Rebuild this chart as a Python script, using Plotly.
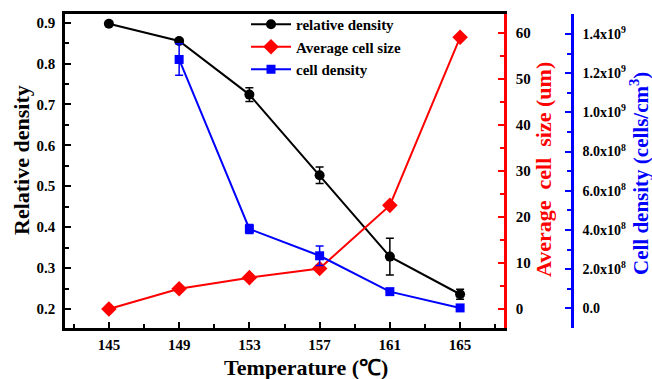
import plotly.graph_objects as go

W, H = 652, 379
temps = [145, 149, 153, 157, 161, 165]
rel_density = [0.897, 0.855, 0.724, 0.527, 0.328, 0.236]
rel_density_err = [0.0, 0.005, 0.017, 0.02, 0.045, 0.012]
cell_size = [0.0, 4.4, 6.8, 8.8, 22.5, 59.0]
cell_temps = [149, 153, 157, 161, 165]
cell_density = [1.27e9, 4.05e8, 2.68e8, 8.5e7, 2.0e6]
cell_density_err = [8.0e7, 2.3e7, 5.0e7, 0.0, 0.0]

blue_ticks = [0, 2e8, 4e8, 6e8, 8e8, 1.0e9, 1.2e9, 1.4e9]
blue_text = ["0.0", "2.0x10<sup>8</sup>", "4.0x10<sup>8</sup>", "6.0x10<sup>8</sup>",
             "8.0x10<sup>8</sup>", "1.0x10<sup>9</sup>", "1.2x10<sup>9</sup>", "1.4x10<sup>9</sup>"]

FONT = "Liberation Serif"
px = lambda x: x / W
py = lambda y: 1 - y / H

L, R, T, B = 65, 504, 14, 328
tickfont = dict(family=FONT, size=15, color="black", weight="bold")

fig = go.Figure()
fig.add_trace(go.Scatter(
    x=temps, y=rel_density, name="relative density", mode="lines+markers",
    line=dict(color="black", width=2), marker=dict(symbol="circle", size=10, color="black"),
    error_y=dict(type="data", array=rel_density_err, color="black", thickness=1.5, width=4),
    yaxis="y"))
fig.add_trace(go.Scatter(
    x=temps, y=cell_size, name="Average cell size", mode="lines+markers",
    line=dict(color="red", width=2), marker=dict(symbol="diamond", size=12, color="red"),
    yaxis="y2"))
fig.add_trace(go.Scatter(
    x=cell_temps, y=cell_density, name="cell density", mode="lines+markers",
    line=dict(color="blue", width=2), marker=dict(symbol="square", size=9, color="blue"),
    error_y=dict(type="data", array=cell_density_err, color="blue", thickness=1.5, width=4),
    yaxis="y3"))

fig.update_layout(
    width=W, height=H, margin=dict(l=0, r=0, t=0, b=0),
    paper_bgcolor="white", plot_bgcolor="white",
    showlegend=True,
    legend=dict(x=px(246), y=py(8), xanchor="left", yanchor="top",
                font=dict(family=FONT, size=15, color="black", weight="bold"),
                bgcolor="rgba(0,0,0,0)", tracegroupgap=0, itemwidth=40),
    xaxis=dict(domain=[px(L), px(R)], range=[142.5, 167.5],
               tickvals=temps, ticks="inside", ticklen=6, tickwidth=2, tickcolor="black",
               minor=dict(tickvals=[143, 147, 151, 155, 159, 163, 167], ticks="inside", ticklen=4, tickwidth=2, tickcolor="black"),
               showline=True, linecolor="black", linewidth=2.5, mirror=True,
               showgrid=False, zeroline=False, tickfont=tickfont, ticklabelstandoff=1),
    yaxis=dict(domain=[py(B), py(T)], range=[0.1535, 0.921],
               tickvals=[0.2, 0.3, 0.4, 0.5, 0.6, 0.7, 0.8, 0.9],
               ticktext=["0.2", "0.3", "0.4", "0.5", "0.6", "0.7", "0.8", "0.9"],
               ticks="inside", ticklen=6, tickwidth=2, tickcolor="black",
               minor=dict(tickvals=[0.25, 0.35, 0.45, 0.55, 0.65, 0.75, 0.85], ticks="inside", ticklen=4, tickwidth=2, tickcolor="black"),
               showline=True, linecolor="black", linewidth=2.5,
               showgrid=False, zeroline=False, tickfont=tickfont, ticklabelstandoff=4),
    yaxis2=dict(overlaying="y", side="right", anchor="x", range=[-4.13, 64.06],
                tickvals=[0, 10, 20, 30, 40, 50, 60],
                ticks="inside", ticklen=6, tickwidth=2, tickcolor="red",
                minor=dict(tickvals=[5, 15, 25, 35, 45, 55], ticks="inside", ticklen=4, tickwidth=2, tickcolor="red"),
                showline=True, linecolor="red", linewidth=2.5,
                showgrid=False, zeroline=False, tickfont=tickfont, ticklabelstandoff=6),
    yaxis3=dict(overlaying="y", side="right", anchor="free", position=px(572),
                range=[-1.005e8, 1.502e9],
                tickvals=blue_ticks, ticktext=blue_text,
                ticks="inside", ticklen=6, tickwidth=2, tickcolor="blue",
                minor=dict(tickvals=[-1e8, 1e8, 3e8, 5e8, 7e8, 9e8, 1.1e9, 1.3e9, 1.5e9], ticks="inside", ticklen=4, tickwidth=2, tickcolor="blue"),
                showline=True, linecolor="blue", linewidth=2.5,
                showgrid=False, zeroline=False, tickfont=dict(family=FONT, size=14, color="black", weight="bold"),
                ticklabelstandoff=6),
)

title_font = dict(family=FONT, size=22, weight="bold")
def title(x, y, text, color, angle, size=22):
    fig.add_annotation(x=px(x), y=py(y), xref="paper", yref="paper", text=text,
                       textangle=angle, showarrow=False, xanchor="center", yanchor="middle",
                       font=dict(color=color, family=FONT, size=size, weight="bold"))

title(22, 160, "Relative density", "black", -90)
title(543, 170, "Average\u00a0 cell\u00a0 size (um)", "red", -90)
title(639, 174, "Cell density (cells/cm<sup>3</sup>)", "blue", -90, 21)
title(306, 367, "Temperature (℃)", "black", 0)

fig.write_html("out.html")
